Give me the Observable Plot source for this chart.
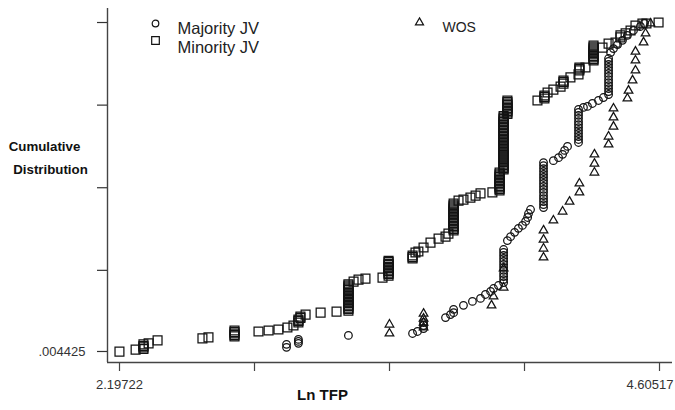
<!DOCTYPE html>
<html><head><meta charset="utf-8">
<script src="https://cdn.jsdelivr.net/npm/d3@7"></script>
<script src="https://cdn.jsdelivr.net/npm/@observablehq/plot@0.6"></script>
<style>body{margin:0;background:#fff;overflow:hidden}</style>
</head><body><div id="chart"></div>
<script>
// [Ln TFP, cumulative share]
const majorityPoints = [
[2.942,.017],[2.942,.026],[2.995,.029],[2.995,.035],[2.995,.041],[3.218,.053],[3.504,.059],[3.526,.065],
[3.553,.074],[3.553,.083],[3.553,.092],[3.651,.107],[3.673,.116],[3.687,.122],[3.687,.132],[3.731,.144],
[3.771,.156],[3.807,.165],[3.829,.177],[3.852,.186],[3.865,.195],[3.887,.204],
[3.910,.213],[3.910,.222],[3.910,.231],[3.910,.240],[3.910,.250],[3.910,.259],[3.910,.268],[3.910,.277],
[3.910,.286],[3.910,.295],[3.910,.304],[3.910,.313],
[3.927,.340],[3.941,.352],[3.959,.365],[3.976,.377],[3.994,.386],[4.008,.398],[4.017,.410],[4.021,.422],[4.030,.434],
[4.088,.440],[4.088,.449],[4.088,.458],[4.088,.467],[4.088,.476],[4.088,.486],[4.088,.495],[4.088,.504],
[4.088,.513],[4.088,.522],[4.088,.531],[4.088,.540],[4.088,.549],[4.088,.558],[4.088,.567],[4.088,.576],
[4.132,.582],[4.155,.591],[4.173,.601],[4.182,.613],[4.195,.625],
[4.244,.637],[4.244,.646],[4.244,.655],[4.244,.664],[4.244,.673],[4.244,.682],[4.244,.691],[4.244,.700],
[4.244,.710],[4.244,.719],[4.244,.728],[4.244,.737],
[4.266,.743],[4.284,.746],[4.306,.755],[4.333,.764],[4.355,.773],
[4.378,.782],[4.378,.791],[4.378,.800],[4.378,.809],[4.378,.818],[4.378,.827],[4.378,.837],[4.378,.846],
[4.378,.855],[4.378,.864],[4.378,.873],[4.378,.882],[4.378,.891],
[4.387,.909],[4.400,.921],[4.418,.933],[4.440,.946],[4.462,.961],[4.489,.976],[4.520,.988],[4.538,.997]
];
const minorityPoints = [
[2.197,.004],[2.269,.010],[2.304,.012],[2.304,.017],[2.304,.021],[2.304,.026],[2.327,.029],[2.367,.038],
[2.567,.044],[2.594,.047],[2.710,.050],[2.710,.054],[2.710,.059],[2.710,.063],[2.710,.068],
[2.817,.065],[2.862,.068],[2.906,.071],[2.946,.077],[2.973,.083],[2.995,.092],[2.995,.097],[2.995,.101],
[3.004,.106],[3.004,.110],[3.027,.116],[3.094,.122],[3.165,.125],
[3.218,.128],[3.218,.133],[3.218,.137],[3.218,.142],[3.218,.146],[3.218,.151],[3.218,.155],[3.218,.160],
[3.218,.164],[3.218,.168],[3.218,.173],[3.218,.177],[3.218,.182],[3.218,.186],[3.218,.191],[3.218,.195],
[3.218,.199],[3.218,.204],[3.218,.208],
[3.241,.216],[3.263,.222],[3.294,.225],[3.370,.228],
[3.397,.234],[3.397,.239],[3.397,.243],[3.397,.248],[3.397,.252],[3.397,.257],[3.397,.261],[3.397,.266],
[3.397,.270],[3.397,.275],[3.397,.279],
[3.504,.286],[3.504,.290],[3.504,.295],[3.517,.304],[3.530,.307],[3.553,.319],[3.584,.334],[3.620,.346],
[3.651,.352],[3.664,.361],
[3.687,.371],[3.687,.375],[3.687,.380],[3.687,.384],[3.687,.389],[3.687,.393],[3.687,.398],[3.687,.402],
[3.687,.407],[3.687,.411],[3.687,.416],[3.687,.420],[3.687,.425],[3.687,.429],[3.687,.434],[3.687,.438],
[3.687,.443],[3.687,.447],[3.687,.452],
[3.709,.461],[3.731,.464],[3.762,.470],[3.785,.476],[3.807,.483],[3.860,.486],
[3.892,.492],[3.892,.496],[3.892,.501],[3.892,.505],[3.892,.510],[3.892,.514],[3.892,.519],[3.892,.523],
[3.892,.528],[3.892,.532],[3.892,.537],[3.892,.541],[3.892,.546],
[3.910,.555],[3.910,.559],[3.910,.564],[3.910,.568],[3.910,.573],[3.910,.577],[3.910,.582],[3.910,.586],
[3.910,.591],[3.910,.595],[3.910,.600],[3.910,.604],[3.910,.609],[3.910,.613],[3.910,.618],[3.910,.622],
[3.910,.627],[3.910,.631],[3.910,.636],[3.910,.640],[3.910,.645],[3.910,.649],[3.910,.654],[3.910,.658],
[3.910,.663],[3.910,.667],[3.910,.672],[3.910,.676],[3.910,.681],[3.910,.685],[3.910,.690],[3.910,.694],
[3.910,.699],[3.910,.703],[3.910,.708],[3.910,.712],[3.910,.717],
[3.927,.723],[3.927,.728],[3.927,.732],[3.927,.737],[3.927,.741],[3.927,.746],[3.927,.750],[3.927,.755],
[3.927,.759],[3.927,.764],
[4.061,.764],[4.092,.770],[4.092,.775],[4.092,.779],[4.106,.788],[4.132,.797],[4.164,.806],
[4.177,.815],[4.177,.820],[4.177,.824],[4.208,.834],[4.244,.843],[4.248,.855],[4.248,.860],[4.248,.864],
[4.275,.864],
[4.311,.885],[4.311,.889],[4.311,.894],[4.311,.898],[4.311,.903],[4.311,.907],[4.311,.912],[4.311,.916],
[4.311,.921],[4.311,.925],[4.311,.930],
[4.351,.924],[4.378,.936],[4.409,.939],[4.431,.955],[4.431,.961],[4.454,.967],[4.476,.976],[4.498,.991],
[4.529,.997],[4.547,.997],[4.601,1.000]
];
const wosPoints = [
[3.401,.059],[3.401,.086],[3.553,.077],[3.553,.092],[3.553,.104],[3.553,.119],[3.856,.144],[3.865,.171],
[3.910,.198],[3.910,.256],[4.088,.289],[4.088,.316],[4.088,.343],[4.088,.371],[4.132,.401],[4.173,.428],
[4.204,.458],[4.248,.486],[4.248,.513],[4.315,.546],[4.315,.573],[4.315,.601],[4.378,.631],[4.378,.655],
[4.400,.685],[4.400,.713],[4.400,.740],[4.462,.770],[4.467,.794],[4.485,.825],[4.498,.855],[4.498,.885],
[4.498,.912],[4.534,.940],[4.543,.967],[4.565,.997]
];
const legendLabels = ["Majority JV", "Minority JV", "WOS"];
const legendSymbols = ["circle", "square", "triangle"];
const xTicks = [2.19722, 2.79921, 3.40120, 4.00318, 4.60517];
const xTickLabels = ["2.19722", "4.60517"];
const yTicks = [0.004425, 0.25, 0.5, 0.75, 1];
const yTickLabels = [".004425", "", "", "", ""];
const xDomain = [2.1437, 4.6631];
const yDomain = [-0.0289, 1.0424];

const ink = "#131313";
const font = "'Liberation Sans', Arial, Helvetica, sans-serif";
const dotOpts = (sym, r) => ({x: d => d[0], y: d => d[1], symbol: sym, r, stroke: ink, fill: "none", strokeWidth: 1.25});

const chart = Plot.plot({
  width: 675, height: 410,
  marginLeft: 107, marginRight: 3, marginTop: 8, marginBottom: 48,
  style: {fontFamily: font, background: "#fff", overflow: "visible"},
  x: {domain: xDomain, label: null},
  y: {domain: yDomain, label: null},
  marks: [
    Plot.ruleX([xDomain[0]], {stroke: "#444", strokeWidth: 1.4}),
    Plot.ruleY([yDomain[0]], {stroke: "#444", strokeWidth: 1.4}),
    Plot.axisX(xTicks, {tickSize: 9, tickFormat: () => "", color: "#444", strokeWidth: 1.2}),
    Plot.text([xTicks[0]], {x: d => d, text: () => xTickLabels[0], frameAnchor: "bottom", dy: 26, textAnchor: "middle", fontSize: 13, fill: "#333"}),
    Plot.text([xTicks[4]], {x: d => d, text: () => xTickLabels[1], frameAnchor: "bottom", dy: 26, dx: 14, textAnchor: "end", fontSize: 13, fill: "#333"}),
    Plot.axisY(yTicks, {tickSize: 10, tickPadding: 12, fontSize: 13, color: "#333", strokeWidth: 1.2,
      tickFormat: d => yTickLabels[yTicks.indexOf(d)]}),
    Plot.dot(wosPoints, dotOpts("triangle", 3.2)),
    Plot.dot(majorityPoints, dotOpts("circle", 3.8)),
    Plot.dot(minorityPoints, dotOpts("square", 5)),
    // legend
    Plot.dot([legendLabels[0]], {frameAnchor: "top-left", dx: 48, dy: 15, symbol: legendSymbols[0], r: 3.3, stroke: ink, fill: "none", strokeWidth: 1.2}),
    Plot.dot([legendLabels[1]], {frameAnchor: "top-left", dx: 48, dy: 32, symbol: legendSymbols[1], r: 4.3, stroke: ink, fill: "none", strokeWidth: 1.2}),
    Plot.dot([legendLabels[2]], {frameAnchor: "top-left", dx: 312, dy: 14, symbol: legendSymbols[2], r: 3, stroke: ink, fill: "none", strokeWidth: 1.2}),
    Plot.text([legendLabels[0]], {text: d => d, frameAnchor: "top-left", dx: 70, dy: 14, textAnchor: "start", fontSize: 16.5, fill: "#222"}),
    Plot.text([legendLabels[1]], {text: d => d, frameAnchor: "top-left", dx: 70, dy: 33, textAnchor: "start", fontSize: 16.5, fill: "#222"}),
    Plot.text([legendLabels[2]], {text: d => d, frameAnchor: "top-left", dx: 335, dy: 14, textAnchor: "start", fontSize: 14, fill: "#222"}),
    // axis titles
    Plot.text(["Cumulative"], {text: d => d, frameAnchor: "top-left", dx: -63, dy: 133, textAnchor: "middle", fontSize: 13.3, fontWeight: "bold", fill: "#111"}),
    Plot.text(["Distribution"], {text: d => d, frameAnchor: "top-left", dx: -57, dy: 156, textAnchor: "middle", fontSize: 13.3, fontWeight: "bold", fill: "#111"}),
    Plot.text(["Ln TFP"], {text: d => d, frameAnchor: "bottom-left", dx: 215, dy: 37, textAnchor: "middle", fontSize: 15, fontWeight: "bold", fill: "#111"})
  ]
});
document.getElementById("chart").appendChild(chart);
</script>
</body></html>
